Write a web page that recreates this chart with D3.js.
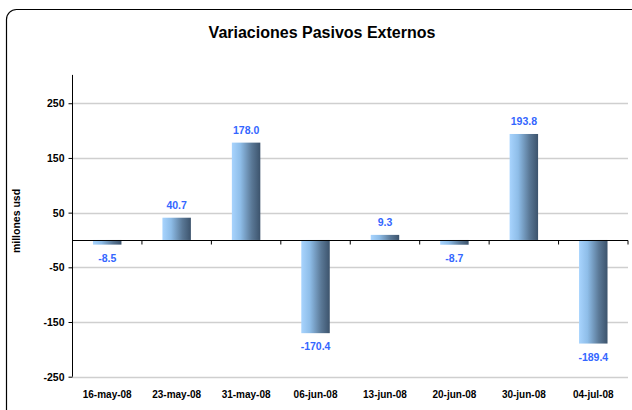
<!DOCTYPE html>
<html>
<head>
<meta charset="utf-8">
<script src="https://cdn.jsdelivr.net/npm/d3@7"></script>
<style>
  body { margin: 0; background: #fff; }
  svg { display: block; font-family: "Liberation Sans", Arial, sans-serif; }
</style>
</head>
<body>
<div id="chart"></div>
<script>
// data
var categories = ['16-may-08', '23-may-08', '31-may-08', '06-jun-08', '13-jun-08', '20-jun-08', '30-jun-08', '04-jul-08'];
var values = [-8.5, 40.7, 178.0, -170.4, 9.3, -8.7, 193.8, -189.4];
var yTicks = [-250, -150, -50, 50, 150, 250];

var width = 632, height = 410;
var plotLeft = 72.5, plotRight = 628, plotTop = 75.9, plotBottom = 376.7;

// plain hyphen as minus sign, like the reference
var locale = d3.formatLocale({decimal: '.', thousands: ',', grouping: [3], currency: ['$', ''], minus: '-'});

var svg = d3.select('#chart').append('svg')
  .attr('width', width)
  .attr('height', height);

// gradient for bars
var grad = svg.append('defs').append('linearGradient')
  .attr('id', 'barGrad')
  .attr('x1', '0%').attr('x2', '100%').attr('y1', '0%').attr('y2', '0%');
grad.append('stop').attr('offset', '0%').attr('stop-color', '#a8d4fe');
grad.append('stop').attr('offset', '30%').attr('stop-color', '#8ebde8');
grad.append('stop').attr('offset', '70%').attr('stop-color', '#5a7896');
grad.append('stop').attr('offset', '100%').attr('stop-color', '#3c536c');

// outer border
svg.append('rect')
  .attr('x', 6.5).attr('y', 9.5)
  .attr('width', 640).attr('height', 420)
  .attr('rx', 10).attr('ry', 10)
  .attr('fill', 'none')
  .attr('stroke', '#000')
  .attr('stroke-width', 1.2);

var x = d3.scaleBand()
  .domain(categories)
  .range([plotLeft, plotRight])
  .paddingInner(0.59)
  .paddingOuter(0.295);

var xBand = d3.scaleBand().domain(categories).range([plotLeft, plotRight]);

var y = d3.scaleLinear()
  .domain([-250, 300])
  .range([plotBottom, plotTop]);

// gridlines
svg.append('g').selectAll('line')
  .data(yTicks)
  .enter().append('line')
  .attr('x1', plotLeft).attr('x2', plotRight)
  .attr('y1', function(d) { return Math.round(y(d)) + 0.5; })
  .attr('y2', function(d) { return Math.round(y(d)) + 0.5; })
  .attr('stroke', '#cfcfcf')
  .attr('stroke-width', 1.5);

// y axis
var yAxis = d3.axisLeft(y)
  .tickValues(yTicks)
  .tickSize(4)
  .tickPadding(4)
  .tickFormat(locale.format('d'));
var gy = svg.append('g')
  .attr('transform', 'translate(' + plotLeft + ',0)')
  .call(yAxis);
gy.select('.domain').attr('d', 'M0,' + (plotTop - 1) + 'V' + plotBottom).attr('stroke', '#000');
gy.selectAll('.tick line').attr('stroke', '#000');
gy.selectAll('text')
  .attr('font-size', 10.5)
  .attr('font-weight', 'bold')
  .attr('fill', '#000')
  .attr('font-family', '"Liberation Sans", Arial, sans-serif');

// bars
svg.append('g').selectAll('rect')
  .data(values)
  .enter().append('rect')
  .attr('x', function(d, i) { return x(categories[i]); })
  .attr('width', x.bandwidth())
  .attr('y', function(d) { return y(Math.max(0, d)); })
  .attr('height', function(d) { return Math.abs(y(d) - y(0)); })
  .attr('fill', 'url(#barGrad)');

// zero line with category ticks
var zeroY = Math.round(y(0)) + 0.5;
svg.append('line')
  .attr('x1', plotLeft).attr('x2', plotRight)
  .attr('y1', zeroY).attr('y2', zeroY)
  .attr('stroke', '#000')
  .attr('stroke-width', 1.2);
svg.append('g').selectAll('line')
  .data(categories)
  .enter().append('line')
  .attr('x1', function(d) { return xBand(d) + xBand.bandwidth(); })
  .attr('x2', function(d) { return xBand(d) + xBand.bandwidth(); })
  .attr('y1', zeroY).attr('y2', zeroY + 4)
  .attr('stroke', '#000');

// data labels
svg.append('g').selectAll('text')
  .data(values)
  .enter().append('text')
  .attr('x', function(d, i) { return x(categories[i]) + x.bandwidth() / 2; })
  .attr('y', function(d) { return d >= 0 ? y(d) - 9 : y(d) + 17; })
  .attr('text-anchor', 'middle')
  .attr('font-size', 10.5)
  .attr('font-weight', 'bold')
  .attr('fill', '#3366ff')
  .text(function(d) { return locale.format('.1f')(d); });

// category labels
svg.append('g').selectAll('text')
  .data(categories)
  .enter().append('text')
  .attr('x', function(d) { return xBand(d) + xBand.bandwidth() / 2; })
  .attr('y', 398)
  .attr('text-anchor', 'middle')
  .attr('font-size', 10)
  .attr('font-weight', 'bold')
  .attr('fill', '#000')
  .text(function(d) { return d; });

// title
svg.append('text')
  .attr('x', 322)
  .attr('y', 38)
  .attr('text-anchor', 'middle')
  .attr('font-size', 16)
  .attr('font-weight', 'bold')
  .text('Variaciones Pasivos Externos');

// y axis title
svg.append('text')
  .attr('transform', 'translate(20,221) rotate(-90)')
  .attr('text-anchor', 'middle')
  .attr('font-size', 10.5)
  .attr('font-weight', 'bold')
  .text('millones usd');
</script>
</body>
</html>
